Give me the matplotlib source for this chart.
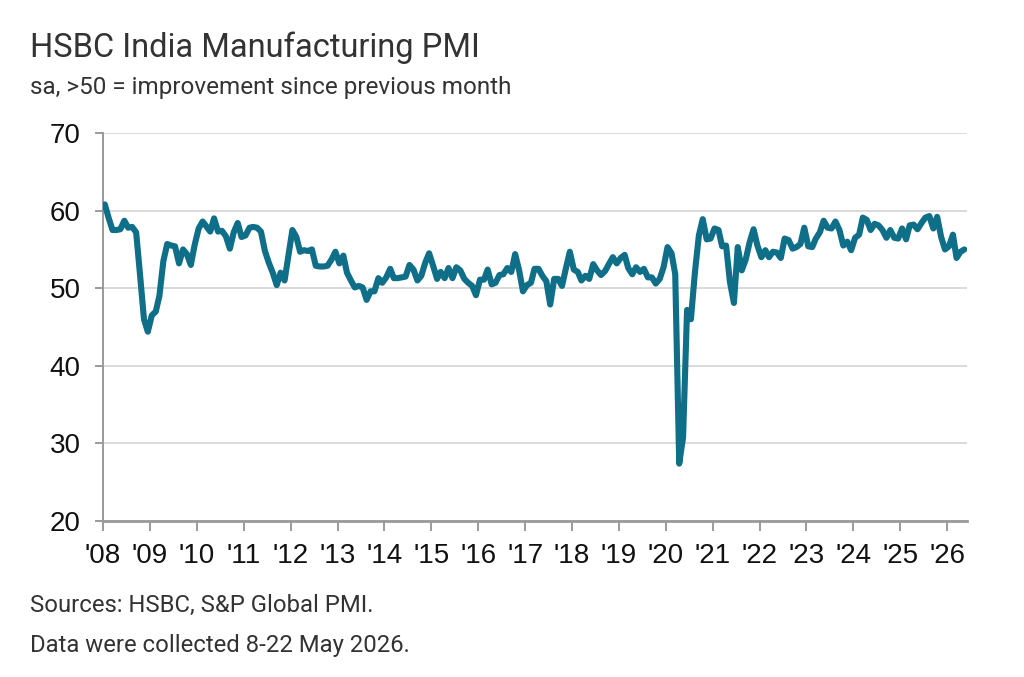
import pandas as pd
import numpy as np
import matplotlib
matplotlib.use('Agg')
import matplotlib.pyplot as plt
import matplotlib.dates as mdates

# HSBC India Manufacturing PMI, monthly, Jan 2008 - May 2026
pmi_2008 = [60.8, 59.0, 57.5, 57.5, 57.6, 58.7, 57.8, 57.9, 57.2, 51.8, 46.0, 44.4]
pmi_2009 = [46.5, 47.0, 49.0, 53.5, 55.7, 55.5, 55.4, 53.2, 55.0, 54.4, 53.0, 55.6]
pmi_2010 = [57.7, 58.6, 58.0, 57.3, 59.0, 57.3, 57.4, 56.7, 55.1, 57.2, 58.4, 56.6]
pmi_2011 = [56.8, 57.8, 57.9, 57.8, 57.3, 54.8, 53.3, 52.0, 50.4, 52.0, 51.0, 54.2]
pmi_2012 = [57.5, 56.6, 54.7, 54.9, 54.8, 55.0, 52.9, 52.8, 52.8, 52.9, 53.7, 54.7]
pmi_2013 = [53.2, 54.2, 52.0, 51.0, 50.1, 50.3, 50.1, 48.5, 49.6, 49.6, 51.3, 50.7]
pmi_2014 = [51.4, 52.5, 51.3, 51.3, 51.4, 51.5, 53.0, 52.4, 51.0, 51.6, 53.3, 54.5]
pmi_2015 = [52.9, 51.2, 52.1, 51.3, 52.6, 51.3, 52.7, 52.3, 51.2, 50.7, 50.3, 49.1]
pmi_2016 = [51.1, 51.1, 52.4, 50.5, 50.7, 51.7, 51.8, 52.6, 52.1, 54.4, 52.3, 49.6]
pmi_2017 = [50.4, 50.7, 52.5, 52.5, 51.6, 50.9, 47.9, 51.2, 51.2, 50.3, 52.6, 54.7]
pmi_2018 = [52.4, 52.1, 51.0, 51.6, 51.2, 53.1, 52.3, 51.7, 52.2, 53.1, 54.0, 53.2]
pmi_2019 = [53.9, 54.3, 52.6, 51.8, 52.7, 52.1, 52.5, 51.4, 51.4, 50.6, 51.2, 52.7]
pmi_2020 = [55.3, 54.5, 51.8, 27.4, 30.8, 47.2, 46.0, 52.0, 56.8, 58.9, 56.3, 56.4]
pmi_2021 = [57.7, 57.5, 55.4, 55.5, 50.8, 48.1, 55.3, 52.3, 53.7, 55.9, 57.6, 55.5]
pmi_2022 = [54.0, 54.9, 54.0, 54.7, 54.6, 53.9, 56.4, 56.2, 55.1, 55.3, 55.7, 57.8]
pmi_2023 = [55.4, 55.3, 56.4, 57.2, 58.7, 57.8, 57.7, 58.6, 57.5, 55.5, 56.0, 54.9]
pmi_2024 = [56.5, 56.9, 59.1, 58.8, 57.5, 58.3, 58.1, 57.5, 56.5, 57.5, 56.5, 56.4]
pmi_2025 = [57.7, 56.3, 58.1, 58.2, 57.6, 58.4, 59.1, 59.3, 57.7, 59.2, 56.6, 55.0]
pmi_2026 = [55.4, 56.9, 53.9, 54.7, 55.0]

pmi = (pmi_2008 + pmi_2009 + pmi_2010 + pmi_2011 + pmi_2012 + pmi_2013 +
       pmi_2014 + pmi_2015 + pmi_2016 + pmi_2017 + pmi_2018 + pmi_2019 +
       pmi_2020 + pmi_2021 + pmi_2022 + pmi_2023 + pmi_2024 + pmi_2025 + pmi_2026)

years = list(range(2008, 2027))
year_labels = ["'" + str(y)[2:] for y in years]
y_ticks = [20, 30, 40, 50, 60, 70]

# points sit mid-month
dates = pd.date_range('2008-01-01', periods=len(pmi), freq='MS') + pd.Timedelta(days=14)

line_col = '#0f6e88'
text_col = '#333333'
grid_col = '#d9d9d9'
axis_col = '#9a9a9a'

fig = plt.figure(figsize=(10.24, 6.77), dpi=100)
ax = fig.add_axes([0.1006, 0.2304, 0.8433, 0.5731])

ax.plot(dates, pmi, color=line_col, lw=4.4, solid_joinstyle='round', solid_capstyle='round', zorder=3)

ax.set_ylim(20, 70)
ax.set_yticks(y_ticks)
ax.set_xlim(pd.Timestamp('2008-01-01'), pd.Timestamp('2026-06-01'))
ax.set_xticks([pd.Timestamp(f'{y}-01-01') for y in years])
ax.set_xticklabels(year_labels)

ax.grid(axis='y', color=grid_col, lw=1.4, zorder=0)
ax.set_axisbelow(True)
for s in ['top', 'right']:
    ax.spines[s].set_visible(False)
ax.spines['left'].set_color(axis_col)
ax.spines['left'].set_linewidth(1.4)
ax.spines['bottom'].set_color(axis_col)
ax.spines['bottom'].set_linewidth(2.0)

ax.tick_params(axis='y', length=6, width=1.4, color=axis_col, pad=10,
               labelsize=20, labelcolor='#111111')
ax.tick_params(axis='x', length=7, width=1.4, color=axis_col, pad=9,
               labelsize=20, labelcolor='#111111')
for lab in ax.get_xticklabels() + ax.get_yticklabels():
    lab.set_family(['Liberation Sans', 'DejaVu Sans'])

fig.text(0.029, 0.93, 'HSBC India Manufacturing PMI', fontsize=23.5,
         family=['Roboto', 'DejaVu Sans'], color=text_col, va='center')
fig.text(0.029, 0.871, 'sa, >50 = improvement since previous month', fontsize=17.5,
         family=['Roboto', 'DejaVu Sans'], color=text_col, va='center')
fig.text(0.029, 0.106, 'Sources: HSBC, S&P Global PMI.', fontsize=17.2,
         family=['Roboto', 'DejaVu Sans'], color=text_col, va='center')
fig.text(0.029, 0.047, 'Data were collected 8-22 May 2026.', fontsize=17.2,
         family=['Roboto', 'DejaVu Sans'], color=text_col, va='center')

fig.savefig('out.png', dpi=100, facecolor='white')
